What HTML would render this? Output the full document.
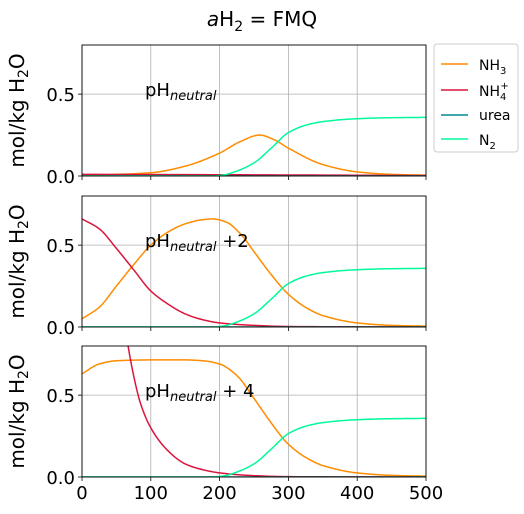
<!DOCTYPE html>
<html><head><meta charset="utf-8"><style>
body{margin:0;background:#fff;font-family:"Liberation Sans","DejaVu Sans",sans-serif}
svg text{font-family:"DejaVu Sans","Liberation Sans",sans-serif}
</style></head><body>
<svg id="c" width="524" height="509" xmlns="http://www.w3.org/2000/svg">
<text x="262" y="26" text-anchor="middle" font-size="20"><tspan font-style="italic">a</tspan>H<tspan font-size="14" dy="5">2</tspan><tspan dy="-5"> = FMQ</tspan></text>
<g>
<rect x="434" y="44" width="84" height="108" rx="3" fill="#fff" stroke="#ccc"/>
<line x1="441" x2="468" y1="64" y2="64" stroke="#ff8c00" stroke-width="1.5"/><text x="479" y="70" font-size="14">NH<tspan font-size="10" dy="4">3</tspan></text>
<line x1="441" x2="468" y1="90" y2="90" stroke="#dc143c" stroke-width="1.5"/><text x="479" y="96" font-size="14">NH<tspan font-size="10" dy="4">4</tspan><tspan font-size="10" dx="-6" dy="-11">+</tspan></text>
<line x1="441" x2="468" y1="115" y2="115" stroke="#008b8b" stroke-width="1.5"/><text x="479" y="120" font-size="14">urea</text>
<line x1="441" x2="468" y1="139" y2="139" stroke="#00fa9a" stroke-width="1.5"/><text x="479" y="145" font-size="14">N<tspan font-size="10" dy="4">2</tspan></text>
</g>
</svg>
<script>
const xTicks=[0,100,200,300,400,500];
const yTicks=[0.0,0.5];
const yTickLabels=["0.0","0.5"];
const panelLabels=["","+2","+ 4"];
// panel 1
const nh3X1=[0,50,100,150,200,230,258,280,300,350,400,450,500];
const nh3Y1=[0.005,0.01,0.02,0.06,0.14,0.21,0.25,0.22,0.17,0.07,0.025,0.01,0.005];
const nh4X1=[0,250,500];
const nh4Y1=[0.01,0.007,0.003];
const n2X=[0,190,200,210,225,250,275,300,325,350,400,450,500];
const n2Y=[0,0,0.003,0.01,0.03,0.08,0.17,0.265,0.31,0.332,0.35,0.356,0.358];
const ureaX=[0,500];
const ureaY=[0,0];
// panel 2
const nh3X2=[0,25,50,75,100,125,150,175,190,210,230,250,275,300,325,350,400,450,500];
const nh3Y2=[0.05,0.12,0.25,0.38,0.5,0.58,0.63,0.655,0.66,0.64,0.57,0.46,0.32,0.2,0.12,0.07,0.025,0.01,0.005];
const nh4X2=[0,25,50,75,100,125,150,175,200,250,300,500];
const nh4Y2=[0.66,0.6,0.48,0.35,0.22,0.14,0.08,0.045,0.025,0.01,0.003,0];
// panel 3
const nh3X3=[0,25,50,100,150,175,200,225,250,275,300,325,350,400,450,500];
const nh3Y3=[0.63,0.69,0.71,0.715,0.715,0.71,0.69,0.62,0.48,0.33,0.2,0.12,0.07,0.025,0.01,0.005];
const nh4X3=[60,67,75,85,100,125,150,175,200,250,300,500];
const nh4Y3=[1.0,0.8,0.62,0.45,0.3,0.16,0.08,0.045,0.025,0.008,0.002,0];

const NS="http://www.w3.org/2000/svg";
const svg=document.getElementById('c');
const X0=82,X1=426,tops=[45,196,346],H=131;
function mk(t,a,p){const e=document.createElementNS(NS,t);for(const k in a)e.setAttribute(k,a[k]);(p||svg).appendChild(e);return e;}
function path(xs,ys,sx,sy){
 const n=xs.length;if(n<3)return 'M'+sx(xs[0])+','+sy(ys[0])+' L'+sx(xs[n-1])+','+sy(ys[n-1]);
 const d=[],m=new Array(n);
 for(let i=0;i<n-1;i++)d.push((ys[i+1]-ys[i])/(xs[i+1]-xs[i]));
 m[0]=d[0];m[n-1]=d[n-2];
 for(let i=1;i<n-1;i++){if(d[i-1]*d[i]<=0)m[i]=0;else{const h0=xs[i]-xs[i-1],h1=xs[i+1]-xs[i];const w1=2*h1+h0,w2=h1+2*h0;m[i]=(w1+w2)/(w1/d[i-1]+w2/d[i]);}}
 let s='M'+sx(xs[0])+','+sy(ys[0]);
 for(let i=0;i<n-1;i++){for(let k=1;k<=12;k++){const t=k/12,h=xs[i+1]-xs[i];
  const h00=2*t*t*t-3*t*t+1,h10=t*t*t-2*t*t+t,h01=-2*t*t*t+3*t*t,h11=t*t*t-t*t;
  const y=h00*ys[i]+h10*h*m[i]+h01*ys[i+1]+h11*h*m[i+1];s+=' L'+sx(xs[i]+t*h).toFixed(2)+','+sy(y).toFixed(2);}}
 return s;}
const series=[
 [[nh3X1,nh3Y1],[nh4X1,nh4Y1],[ureaX,ureaY],[n2X,n2Y]],
 [[nh3X2,nh3Y2],[nh4X2,nh4Y2],[ureaX,ureaY],[n2X,n2Y]],
 [[nh3X3,nh3Y3],[nh4X3,nh4Y3],[ureaX,ureaY],[n2X,n2Y]]];
const cols=["#ff8c00","#dc143c","#008b8b","#00fa9a"];
const names=["nh3","nh4","urea","n2"];
tops.forEach((T,p)=>{
 const sx=v=>X0+(v-0)/500*(X1-X0), sy=v=>T+H-v/0.8*H;
 const g=mk('g',{});
 
 
 mk('clipPath',{id:'cp'+p},g).appendChild(document.createElementNS(NS,'rect'));
 const cr=g.querySelector('clipPath rect');cr.setAttribute('x',X0);cr.setAttribute('y',T);cr.setAttribute('width',X1-X0);cr.setAttribute('height',H);
 xTicks.forEach(t=>{const l=mk('line',{x1:sx(t),x2:sx(t),y1:T,y2:T+H,stroke:'#b0b0b0','stroke-width':0.8},g);
  
  mk('line',{x1:sx(t),x2:sx(t),y1:T+H,y2:T+H+4,stroke:'#000','stroke-width':0.8},g);
  if(p==2){const tx=mk('text',{x:sx(t),y:T+H+22,'text-anchor':'middle','font-size':18},g);tx.textContent=t;
   }});
 yTicks.forEach((t,i)=>{const l=mk('line',{x1:X0,x2:X1,y1:sy(t),y2:sy(t),stroke:'#b0b0b0','stroke-width':0.8},g);
  
  mk('line',{x1:X0-4,x2:X0,y1:sy(t),y2:sy(t),stroke:'#000','stroke-width':0.8},g);
  const tx=mk('text',{x:X0-7,y:sy(t)+7,'text-anchor':'end','font-size':18},g);tx.textContent=yTickLabels[i];
  });
 series[p].forEach((s,k)=>{const e=mk('path',{d:path(s[0],s[1],sx,sy),fill:'none',stroke:cols[k],'stroke-width':1.5,'clip-path':'url(#cp'+p+')'},g);
  });
 mk('rect',{x:X0,y:T,width:X1-X0,height:H,fill:'none',stroke:'#000','stroke-width':0.9},g);
 const lb=mk('text',{x:145,y:T+51,'font-size':18},g);
 
 lb.innerHTML='pH<tspan font-style="italic" font-size="13" dy="4">neutral</tspan>'+(panelLabels[p]?'<tspan dy="-4"> '+panelLabels[p]+'</tspan>':'');
 const yl=mk('text',{x:0,y:0,'text-anchor':'middle','font-size':20,transform:'translate(24,'+(T+H/2)+') rotate(-90)'},g);
 
 yl.innerHTML='mol/kg H<tspan font-size="14" dy="4">2</tspan><tspan dy="-4">O</tspan>';
});
</script>
</body></html>
